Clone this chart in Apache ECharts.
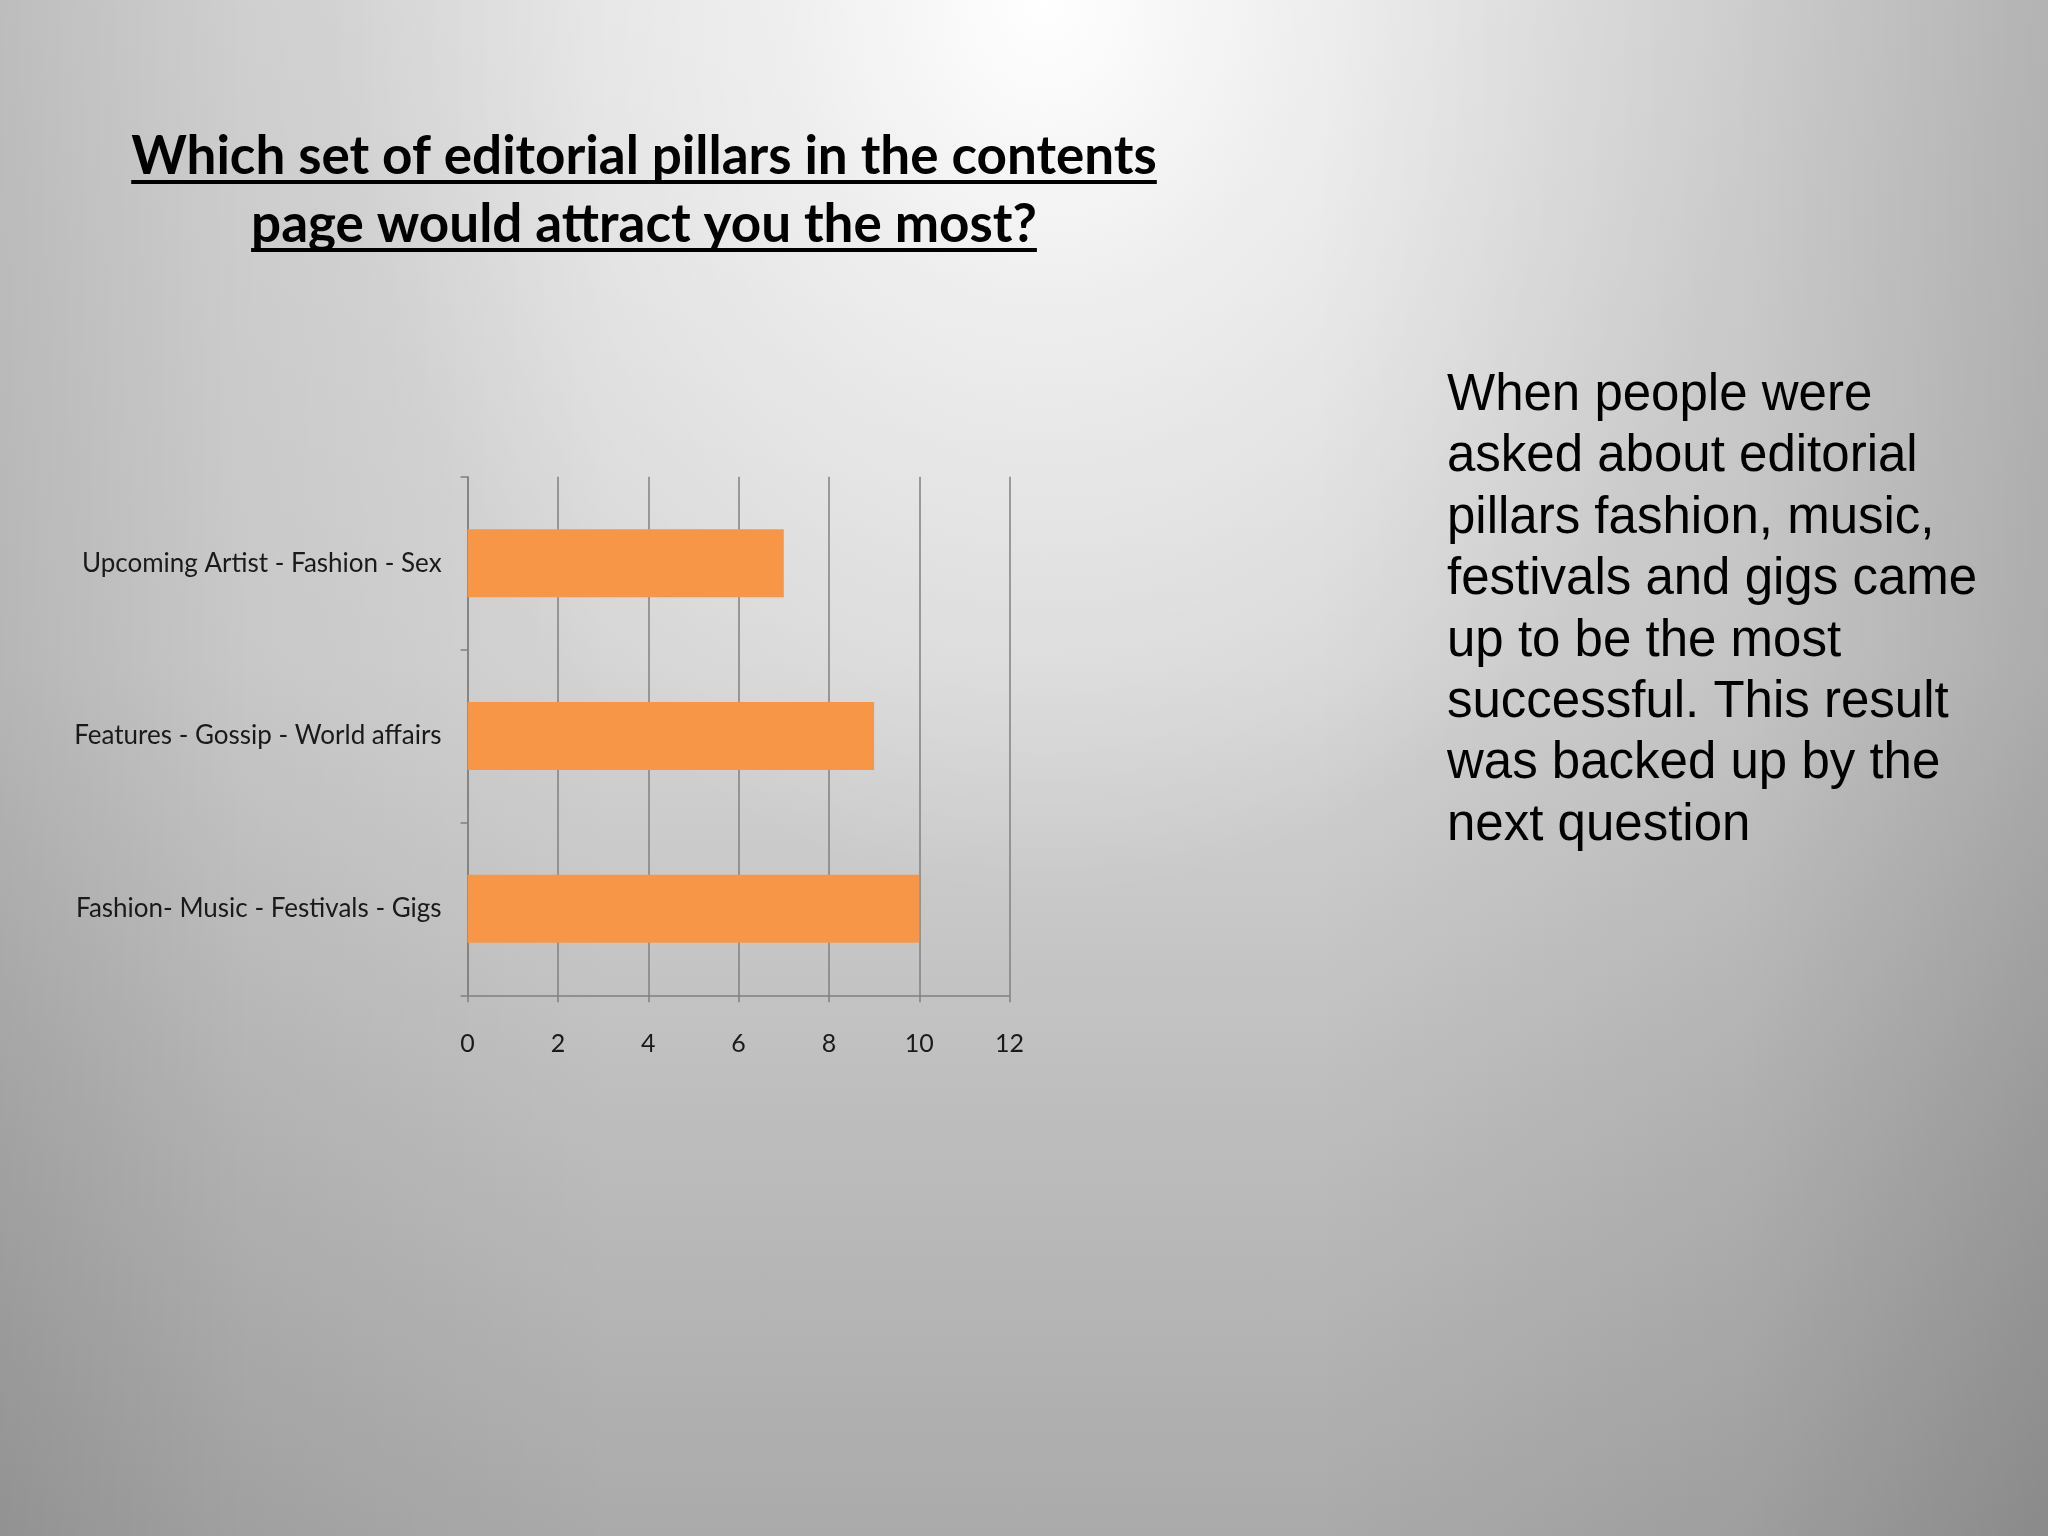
<!DOCTYPE html>
<html>
  <head>
    <title>Editorial pillars</title>
    <style type="text/css">
      html,
      body {
        width: 100%;
        height: 100%;
        margin: 0px;
      }

      #chart {
        width: 2048px;
        height: 1536px;
        background:
          linear-gradient(to right, rgba(0,0,0,0.14) 0%, rgba(0,0,0,0.06) 12%, rgba(0,0,0,0) 30%,
            rgba(0,0,0,0) 64%, rgba(0,0,0,0.07) 85%, rgba(0,0,0,0.19) 100%),
          radial-gradient(ellipse 720px 900px at 51% 0%, rgba(255,255,255,1) 0%,
            rgba(255,255,255,0.55) 35%, rgba(255,255,255,0) 100%),
          linear-gradient(to bottom, #dcdcdc 0%, #d4d4d4 43%, #bfbfbf 70%, #aaaaaa 100%);
      }
    </style>
    <script type="text/javascript" src="https://cdn.jsdelivr.net/npm/echarts@6/dist/echarts.min.js"></script>
  </head>

  <body>
    <div id="chart"></div>
    <script>
      // data, bottom to top as echarts draws a category y axis
      const categories = [
        'Fashion- Music - Festivals - Gigs',
        'Features - Gossip - World affairs',
        'Upcoming Artist - Fashion - Sex'
      ];
      const votes = [10, 9, 7];
      const xTicks = [0, 2, 4, 6, 8, 10, 12];

      const titleLines = [
        'Which set of editorial pillars in the contents',
        'page would attract you the most?'
      ];
      const noteLines = [
        'When people were',
        'asked about editorial',
        'pillars fashion, music,',
        'festivals and gigs came',
        'up to be the most',
        'successful. This result',
        'was backed up by the',
        'next question'
      ];

      // title font is sized so the first line spans the same width as the slide
      const titleFamily = 'Lato';
      const ctx = document.createElement('canvas').getContext('2d');
      function textWidth(text, size) {
        ctx.font = 'bold ' + size + 'px ' + titleFamily;
        return ctx.measureText(text).width;
      }
      const titleSize = Math.round(54 * 1026 / textWidth(titleLines[0], 54));
      const titleX = 644;
      const baselines = [175, 243];

      const graphics = [];
      titleLines.forEach((line, i) => {
        const w = textWidth(line, titleSize);
        graphics.push({
          type: 'text',
          left: titleX - w / 2,
          top: baselines[i] - titleSize * 1.1,
          style: {
            text: line,
            fill: '#000',
            font: 'bold ' + titleSize + 'px ' + titleFamily
          }
        });
        // underline
        graphics.push({
          type: 'rect',
          shape: { x: titleX - w / 2, y: baselines[i] + 5, width: w, height: 4 },
          style: { fill: '#000' }
        });
      });

      graphics.push({
        type: 'text',
        left: 1447,
        top: 352,
        style: {
          text: noteLines.join('\n'),
          fill: '#000',
          font: '51px "Liberation Sans", Arial, sans-serif',
          lineHeight: 61.4
        }
      });

      const myChart = echarts.init(document.getElementById('chart'), null, {
        renderer: 'canvas'
      });

      const axisGray = '#808080';
      const option = {
        backgroundColor: 'transparent',
        animation: false,
        grid: {
          left: 467.6,
          right: 1038.4,
          top: 476.7,
          bottom: 540.7
        },
        xAxis: {
          type: 'value',
          min: xTicks[0],
          max: xTicks[xTicks.length - 1],
          interval: xTicks[1] - xTicks[0],
          axisLine: { show: true, lineStyle: { color: axisGray, width: 1.5 } },
          axisTick: { show: true, length: 7, lineStyle: { color: axisGray, width: 1.5 } },
          splitLine: { show: true, lineStyle: { color: axisGray, width: 1.5 } },
          axisLabel: {
            margin: 30,
            fontSize: 25,
            fontFamily: 'Lato',
            color: '#1a1a1a'
          }
        },
        yAxis: {
          type: 'category',
          data: categories,
          axisLine: { show: true, lineStyle: { color: axisGray, width: 1.5 } },
          axisTick: { show: true, length: 7, lineStyle: { color: axisGray, width: 1.5 } },
          splitLine: { show: false },
          axisLabel: {
            margin: 26,
            fontSize: 26,
            fontFamily: 'Lato',
            color: '#1a1a1a'
          }
        },
        series: [
          {
            type: 'bar',
            data: votes,
            barWidth: 68,
            itemStyle: { color: '#F79646' }
          }
        ],
        graphic: graphics
      };

      myChart.setOption(option);
    </script>
  </body>
</html>
